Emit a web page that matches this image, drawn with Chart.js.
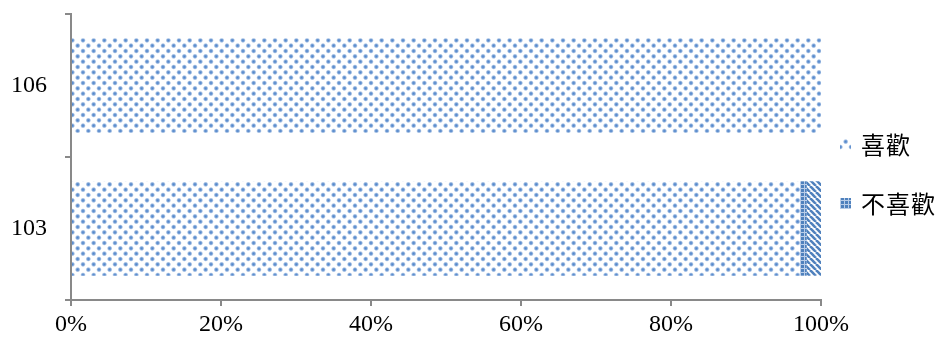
<!DOCTYPE html>
<html>
<head>
<meta charset="utf-8">
<script src="https://cdn.jsdelivr.net/npm/chart.js@4/dist/chart.umd.min.js"></script>
<style>
  html, body { margin: 0; padding: 0; background: #fff; }
  #wrap { width: 940px; height: 343px; position: relative; }
</style>
</head>
<body>
<div id="wrap"><canvas id="c" width="940" height="343"></canvas></div>
<script>
// Survey years (top to bottom)
const years = ['106', '103'];
// Share of answers, percent
const likeValues = [100, 97.2];
const dislikeValues = [0, 0.9];
const otherValues = [0, 1.9];
// Series shown in the legend
const legendLabels = ['喜歡', '不喜歡'];
const xTicks = [0, 20, 40, 60, 80, 100];

function makeTile(w, h, draw) {
  const c = document.createElement('canvas');
  c.width = w; c.height = h;
  draw(c.getContext('2d'), w, h);
  return c;
}

// soft blue dots, staggered rows
const dotTile = makeTile(32, 32, (g, w, h) => {
  g.fillStyle = '#fff'; g.fillRect(0, 0, w, h);
  const step = 32 / 3, row = 32 / 6;
  for (let r = -1; r < 8; r++) {
    for (let i = -1; i < 4; i++) {
      const x = i * step + (r % 2 ? step / 2 : 0) + 3;
      const y = r * row + 3;
      const grd = g.createRadialGradient(x, y, 0, x, y, 2.8);
      grd.addColorStop(0, 'rgba(74,128,200,1)');
      grd.addColorStop(0.5, 'rgba(90,140,205,0.8)');
      grd.addColorStop(1, 'rgba(120,160,215,0)');
      g.fillStyle = grd;
      g.beginPath(); g.arc(x, y, 2.8, 0, Math.PI * 2); g.fill();
    }
  }
});

// small blue squares separated by pale lines
const gridTile = makeTile(4, 4, (g, w, h) => {
  g.fillStyle = '#4f81bd'; g.fillRect(0, 0, w, h);
  g.fillStyle = '#b9cde8';
  g.fillRect(0, 0, w, 1);
  g.fillRect(0, 0, 1, h);
});

// diagonal stripes running down to the right
const stripeTile = makeTile(6, 6, (g, w, h) => {
  g.fillStyle = '#ffffff'; g.fillRect(0, 0, w, h);
  g.strokeStyle = '#4f81bd'; g.lineWidth = 2.6;
  for (const o of [-6, 0, 6]) {
    g.beginPath(); g.moveTo(o, 0); g.lineTo(o + 6, 6); g.stroke();
  }
});

const ctx = document.getElementById('c').getContext('2d');
const dotPat = ctx.createPattern(dotTile, 'repeat');
const gridPat = ctx.createPattern(gridTile, 'repeat');
const stripePat = ctx.createPattern(stripeTile, 'repeat');

const axisColor = '#898989';
const tickFont = { family: '"Liberation Serif", "Times New Roman", serif', size: 24 };

// legend drawn at the right of the plot
const sideLegend = {
  id: 'sideLegend',
  afterDraw(chart) {
    const g = chart.ctx;
    const rows = [145, 204];
    g.save();
    g.font = '24px "Noto Sans CJK TC", sans-serif';
    g.textBaseline = 'middle';
    chart.data.datasets
      .filter(ds => legendLabels.includes(ds.label))
      .forEach((ds, i) => {
        const y = rows[i];
        g.fillStyle = ds.backgroundColor;
        g.fillRect(840, y - 6, 11, 11);
        g.fillStyle = '#000';
        g.letterSpacing = '1px';
        g.fillText(ds.label, 861, y);
      });
    g.restore();
  }
};

new Chart(ctx, {
  type: 'bar',
  data: {
    labels: years,
    datasets: [
      { label: legendLabels[0], data: likeValues, backgroundColor: dotPat },
      { label: legendLabels[1], data: dislikeValues, backgroundColor: gridPat },
      { label: '其他', data: otherValues, backgroundColor: stripePat }
    ]
  },
  options: {
    indexAxis: 'y',
    responsive: false,
    animation: false,
    layout: { padding: { top: 14, right: 119, left: 0, bottom: 0 } },
    datasets: { bar: { categoryPercentage: 0.66, barPercentage: 1, borderWidth: 0 } },
    plugins: { legend: { display: false }, tooltip: { enabled: false } },
    scales: {
      x: {
        stacked: true,
        min: 0, max: 100,
        afterBuildTicks: s => { s.ticks = xTicks.map(v => ({ value: v })); },
        afterFit: s => { s.height = 43; },
        ticks: { callback: v => v + '%', color: '#000', font: tickFont, padding: 4, maxRotation: 0 },
        grid: { drawOnChartArea: false, drawTicks: true, tickLength: 6, color: axisColor, lineWidth: 2 },
        border: { color: axisColor, width: 2 }
      },
      y: {
        stacked: true,
        afterFit: s => { s.width = 71; s.paddingTop = 0; s.paddingBottom = 0; },
        ticks: { color: '#000', font: tickFont, padding: 18 },
        grid: { drawOnChartArea: false, drawTicks: true, tickLength: 6, offset: true, color: axisColor, lineWidth: 2 },
        border: { color: axisColor, width: 2 }
      }
    }
  },
  plugins: [sideLegend]
});
</script>
</body>
</html>
